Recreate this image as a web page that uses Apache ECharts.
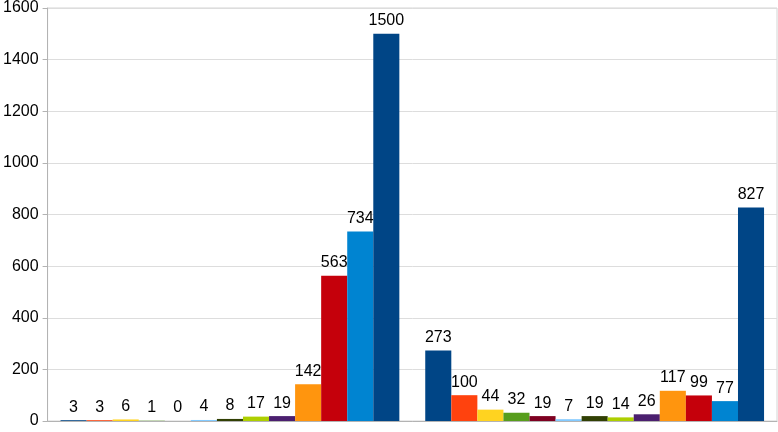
<!DOCTYPE html>
<html><head><meta charset="utf-8">
<script src="https://cdn.jsdelivr.net/npm/echarts@6/dist/echarts.min.js"></script>
<style>html,body{margin:0;padding:0;background:#fff}#c{width:778px;height:432px}</style>
</head><body><div id="c"></div>
<script>
var categories = ['Group 1', 'Group 2'];
var group1Values = [3, 3, 6, 1, 0, 4, 8, 17, 19, 142, 563, 734, 1500];
var group2Values = [273, 100, 44, 32, 19, 7, 19, 14, 26, 117, 99, 77, 827];
var seriesNames = ['S1','S2','S3','S4','S5','S6','S7','S8','S9','S10','S11','S12','S13'];
var colors = ['#004586','#ff420e','#ffd320','#579d1c','#7e0021','#83caff','#314004','#aecf00','#4b1f6f','#ff950e','#c5000b','#0084d1','#004586'];
var yTicks = [0, 200, 400, 600, 800, 1000, 1200, 1400, 1600];

var series = seriesNames.map(function(n, i){
  return {
    name: n, type: 'bar', barGap: '0%', barCategoryGap: '7.1%',
    data: [group1Values[i], group2Values[i]],
    itemStyle: {color: colors[i]},
    label: {show: true, position: 'top', distance: 5, color: '#000', fontSize: 16, fontFamily: 'Liberation Sans'}
  };
});
var chart = echarts.init(document.getElementById('c'));
chart.setOption({
  animation: false,
  grid: {left: 44, right: 1, top: 8, bottom: 11, show: true, borderColor: '#d4d4d4', borderWidth: 1},
  xAxis: {type: 'category', data: categories, axisLabel: {show: false}, axisTick: {show: false},
    axisLine: {lineStyle: {color: '#b3b3b3'}}},
  yAxis: {type: 'value', min: yTicks[0], max: yTicks[yTicks.length-1], interval: 200,
    axisLine: {show: true, lineStyle: {color: '#b3b3b3'}},
    axisTick: {show: true, length: 5, lineStyle: {color: '#b3b3b3'}},
    axisLabel: {color: '#000', fontSize: 16, fontFamily: 'Liberation Sans', margin: 9,
      formatter: function(v){ return String(v); }},
    splitLine: {lineStyle: {color: '#dddddd'}}},
  series: series
});
</script></body></html>
